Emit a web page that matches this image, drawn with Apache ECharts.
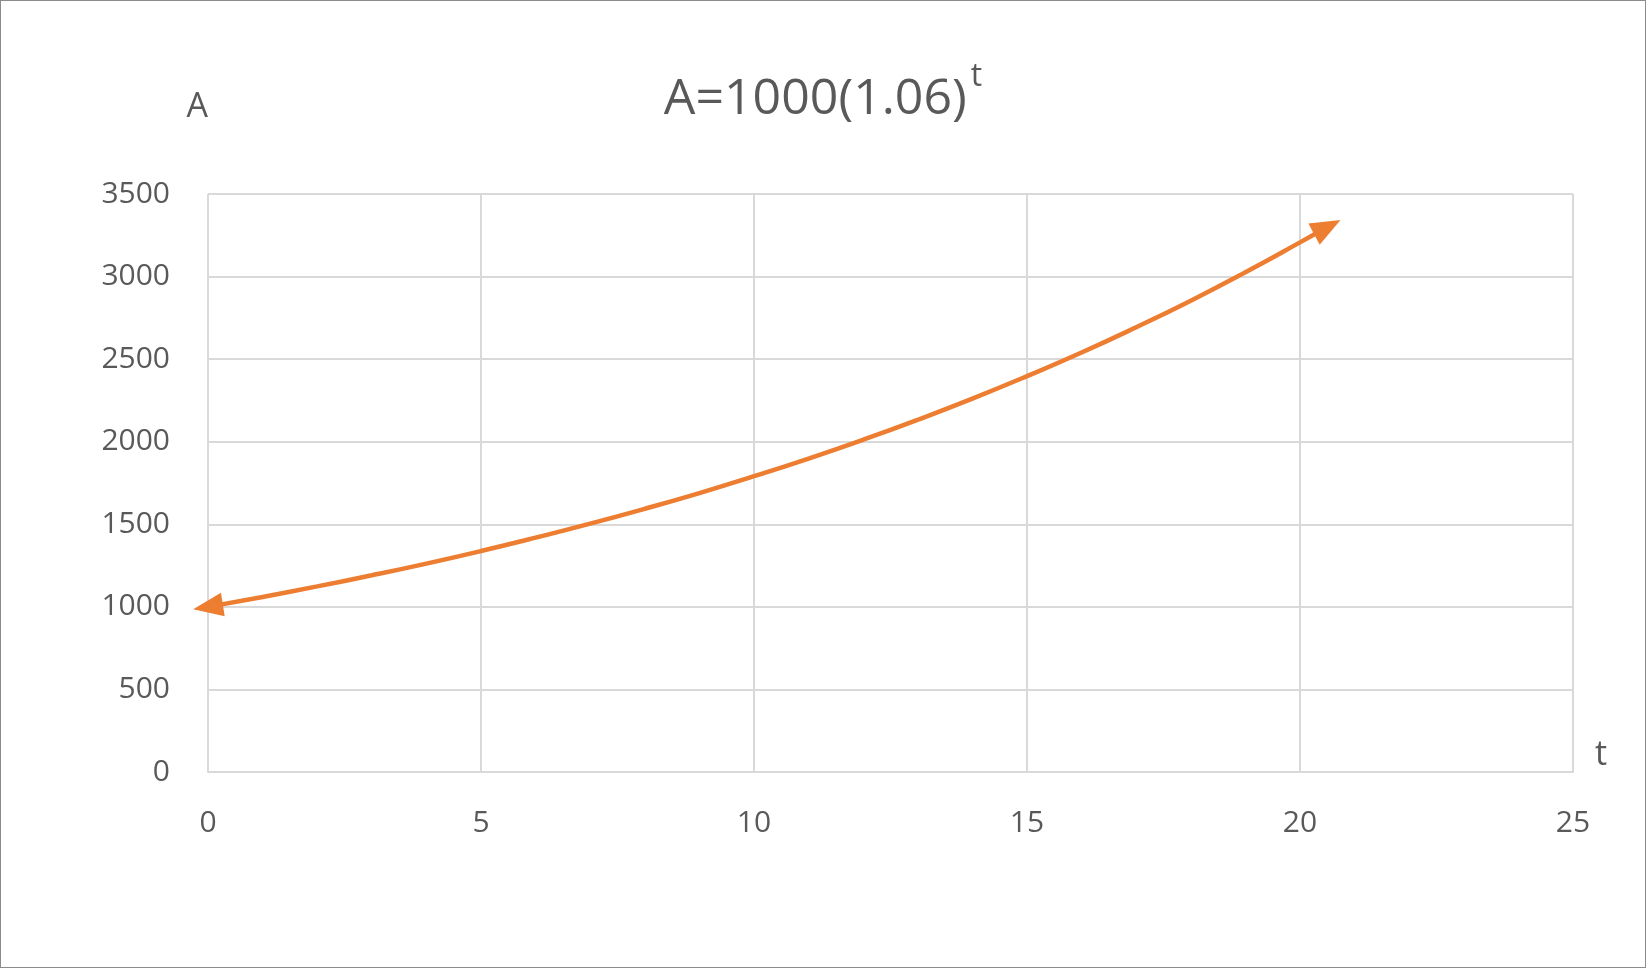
<!DOCTYPE html>
<html>
<head>
<meta charset="UTF-8">
<script src="https://cdn.jsdelivr.net/npm/echarts@6/dist/echarts.min.js"></script>
<style>
  html, body { margin: 0; padding: 0; background: #fff; }
  #main { width: 1644px; height: 966px; border: 1px solid #8c8c8c; }
</style>
</head>
<body>
<div id="main"></div>
<script>
  // values
  var tValues = [0, 1, 2, 3, 4, 5, 6, 7, 8, 9, 10, 11, 12, 13, 14, 15, 16, 17, 18, 19, 20, 20.5];
  var aValues = [1000, 1060, 1124, 1191, 1262, 1338, 1419, 1504, 1594, 1689, 1791,
                 1898, 2012, 2133, 2261, 2397, 2540, 2693, 2854, 3026, 3207, 3300];

  var color = '#ed7d31';
  var textColor = '#595959';
  var font = 'Open Sans';

  var lineData = tValues.map(function (t, i) {
    var item = { value: [t, aValues[i]], symbol: 'none' };
    if (i === 0) {
      item.symbol = 'triangle';
      item.symbolSize = [24, 30];
      item.symbolRotate = 99;
    }
    if (i === tValues.length - 1) {
      item.symbol = 'triangle';
      item.symbolSize = [24, 30];
      item.symbolRotate = -62;
    }
    return item;
  });

  var myChart = echarts.init(document.getElementById('main'));
  myChart.setOption({
    animation: false,
    title: {
      text: '{m|A=1000(1.06)}{s|t}',
      left: 'center',
      top: 55,
      textStyle: {
        rich: {
          m: { fontFamily: font, fontSize: 50, fontWeight: 'normal', color: textColor, verticalAlign: 'bottom' },
          s: { fontFamily: font, fontSize: 32, fontWeight: 'normal', color: textColor, verticalAlign: 'top', padding: [0, 0, 32, 4] }
        }
      }
    },
    grid: { left: 207, right: 72, top: 193, bottom: 195 },
    xAxis: {
      type: 'value', min: 0, max: 25, interval: 5,
      name: 't', nameLocation: 'end', nameGap: 22,
      nameTextStyle: { fontFamily: font, fontSize: 34, color: textColor, verticalAlign: 'bottom' },
      axisLine: { show: true, lineStyle: { color: '#d9d9d9', width: 2 } },
      axisTick: { show: false },
      splitLine: { show: true, lineStyle: { color: '#d9d9d9', width: 2 } },
      axisLabel: { fontFamily: font, fontSize: 30, color: textColor, margin: 36,
        formatter: function (v) { return String(v); } }
    },
    yAxis: {
      type: 'value', min: 0, max: 3500, interval: 500,
      name: 'A', nameLocation: 'end', nameGap: 70,
      nameTextStyle: { fontFamily: font, fontSize: 34, color: textColor, align: 'right', padding: [0, 0, 0, 0] },
      axisLine: { show: false },
      axisTick: { show: false },
      splitLine: { show: true, lineStyle: { color: '#d9d9d9', width: 2 } },
      axisLabel: { fontFamily: font, fontSize: 30, color: textColor, margin: 38,
        formatter: function (v) { return String(v); } }
    },
    series: [{
      type: 'line',
      data: lineData,
      smooth: true,
      showAllSymbol: true,
      lineStyle: { color: color, width: 4.5 },
      itemStyle: { color: color }
    }]
  });
</script>
</body>
</html>
